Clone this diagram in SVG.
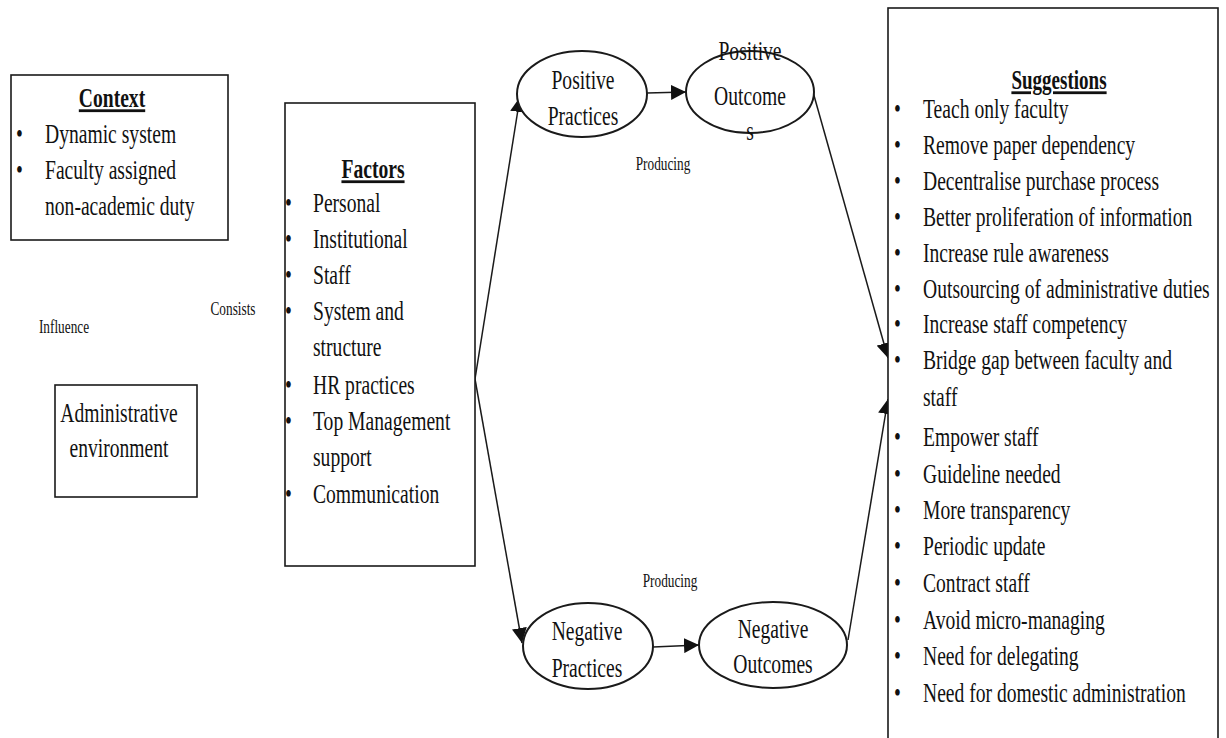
<svg xmlns="http://www.w3.org/2000/svg" width="1226" height="738" viewBox="0 0 1226 738">
  <defs>
    <style>
      .box { fill: #fff; stroke: #1a1a1a; stroke-width: 1.6; }
      .oval { fill: #fff; stroke: #1a1a1a; stroke-width: 2; }
      .link { fill: none; stroke: #1a1a1a; stroke-width: 1.5; marker-end: url(#head); }
      text { font-family: "Liberation Serif", "Times New Roman", serif; fill: #111; }
      .t { font-size: 28px; }
      .c { font-size: 28px; text-anchor: middle; }
      .h { font-size: 28px; font-weight: bold; text-anchor: middle; text-decoration: underline; }
      .s { font-size: 19px; text-anchor: middle; }
      .b { font-size: 28px; }
    </style>
    <marker id="head" markerUnits="userSpaceOnUse" markerWidth="15" markerHeight="15" refX="15" refY="7.5" orient="auto">
      <path d="M0,0 L15,7.5 L0,15 z" fill="#111"/>
    </marker>
  </defs>

  <!-- connectors -->
  <g id="connectors">
    <line class="link" x1="475" y1="379" x2="520" y2="97"/>
    <line class="link" x1="475" y1="379" x2="522" y2="643"/>
    <line class="link" x1="647" y1="93" x2="686" y2="92"/>
    <line class="link" x1="653" y1="647" x2="699" y2="645"/>
    <line class="link" x1="813" y1="92" x2="888" y2="358"/>
    <line class="link" x1="848" y1="640" x2="888" y2="399"/>
  </g>

  <!-- edge labels -->
  <g id="labels">
    <text class="s" transform="translate(64,333) scale(0.7,1)">Influence</text>
    <text class="s" transform="translate(233,315) scale(0.7,1)">Consists</text>
    <text class="s" transform="translate(663,170) scale(0.7,1)">Producing</text>
    <text class="s" transform="translate(670,587) scale(0.7,1)">Producing</text>
  </g>

  <!-- Context -->
  <g id="context">
    <rect class="box" x="11" y="75" width="217" height="165"/>
    <text class="h" transform="translate(112,107) scale(0.7,1)">Context</text>
    <text class="b" transform="translate(16,143) scale(0.7,1)">•</text>
    <text class="t" transform="translate(45,143) scale(0.7,1)">Dynamic system</text>
    <text class="b" transform="translate(16,179) scale(0.7,1)">•</text>
    <text class="t" transform="translate(45,179) scale(0.7,1)">Faculty assigned</text>
    <text class="t" transform="translate(45,215) scale(0.7,1)">non-academic duty</text>
  </g>

  <!-- Administrative environment -->
  <g id="admin-environment">
    <rect class="box" x="55" y="385" width="142" height="112"/>
    <text class="c" transform="translate(119,422) scale(0.7,1)">Administrative</text>
    <text class="c" transform="translate(119,457) scale(0.7,1)">environment</text>
  </g>

  <!-- Factors -->
  <g id="factors">
    <rect class="box" x="285" y="103" width="190" height="463"/>
    <text class="h" transform="translate(373,178) scale(0.7,1)">Factors</text>
    <text class="b" transform="translate(285,212) scale(0.7,1)">•</text>
    <text class="t" transform="translate(313,212) scale(0.7,1)">Personal</text>
    <text class="b" transform="translate(285,248) scale(0.7,1)">•</text>
    <text class="t" transform="translate(313,248) scale(0.7,1)">Institutional</text>
    <text class="b" transform="translate(285,284) scale(0.7,1)">•</text>
    <text class="t" transform="translate(313,284) scale(0.7,1)">Staff</text>
    <text class="b" transform="translate(285,320) scale(0.7,1)">•</text>
    <text class="t" transform="translate(313,320) scale(0.7,1)">System and</text>
    <text class="t" transform="translate(313,356) scale(0.7,1)">structure</text>
    <text class="b" transform="translate(285,394) scale(0.7,1)">•</text>
    <text class="t" transform="translate(313,394) scale(0.7,1)">HR practices</text>
    <text class="b" transform="translate(285,430) scale(0.7,1)">•</text>
    <text class="t" transform="translate(313,430) scale(0.7,1)">Top Management</text>
    <text class="t" transform="translate(313,466) scale(0.7,1)">support</text>
    <text class="b" transform="translate(285,503) scale(0.7,1)">•</text>
    <text class="t" transform="translate(313,503) scale(0.7,1)">Communication</text>
  </g>

  <!-- Practices and outcomes -->
  <g id="positive-practices">
    <ellipse class="oval" cx="582" cy="94" rx="65" ry="43"/>
    <text class="c" transform="translate(583,89) scale(0.7,1)">Positive</text>
    <text class="c" transform="translate(583,125) scale(0.7,1)">Practices</text>
  </g>
  <g id="positive-outcomes">
    <ellipse class="oval" cx="750" cy="92" rx="64" ry="41"/>
    <text class="c" transform="translate(750,60) scale(0.7,1)">Positive</text>
    <text class="c" transform="translate(750,105) scale(0.7,1)">Outcome</text>
    <text class="c" transform="translate(750,140) scale(0.7,1)">s</text>
  </g>
  <g id="negative-practices">
    <ellipse class="oval" cx="588" cy="646" rx="65" ry="43"/>
    <text class="c" transform="translate(587,640) scale(0.7,1)">Negative</text>
    <text class="c" transform="translate(587,677) scale(0.7,1)">Practices</text>
  </g>
  <g id="negative-outcomes">
    <ellipse class="oval" cx="773" cy="645" rx="74" ry="43"/>
    <text class="c" transform="translate(773,638) scale(0.7,1)">Negative</text>
    <text class="c" transform="translate(773,673) scale(0.7,1)">Outcomes</text>
  </g>

  <!-- Suggestions -->
  <g id="suggestions">
    <rect class="box" x="888" y="8" width="330" height="740"/>
    <text class="h" transform="translate(1059,89) scale(0.68,1)">Suggestions</text>
    <g class="bullets">
      <text class="b" transform="translate(894,118) scale(0.7,1)">•</text>
      <text class="b" transform="translate(894,154) scale(0.7,1)">•</text>
      <text class="b" transform="translate(894,190) scale(0.7,1)">•</text>
      <text class="b" transform="translate(894,226) scale(0.7,1)">•</text>
      <text class="b" transform="translate(894,262) scale(0.7,1)">•</text>
      <text class="b" transform="translate(894,298) scale(0.7,1)">•</text>
      <text class="b" transform="translate(894,333) scale(0.7,1)">•</text>
      <text class="b" transform="translate(894,369) scale(0.7,1)">•</text>
      <text class="b" transform="translate(894,446) scale(0.7,1)">•</text>
      <text class="b" transform="translate(894,483) scale(0.7,1)">•</text>
      <text class="b" transform="translate(894,519) scale(0.7,1)">•</text>
      <text class="b" transform="translate(894,555) scale(0.7,1)">•</text>
      <text class="b" transform="translate(894,592) scale(0.7,1)">•</text>
      <text class="b" transform="translate(894,629) scale(0.7,1)">•</text>
      <text class="b" transform="translate(894,665) scale(0.7,1)">•</text>
      <text class="b" transform="translate(894,702) scale(0.7,1)">•</text>
    </g>
    <text class="t" transform="translate(923,118) scale(0.7,1)">Teach only faculty</text>
    <text class="t" transform="translate(923,154) scale(0.7,1)">Remove paper dependency</text>
    <text class="t" transform="translate(923,190) scale(0.7,1)">Decentralise purchase process</text>
    <text class="t" transform="translate(923,226) scale(0.7,1)">Better proliferation of information</text>
    <text class="t" transform="translate(923,262) scale(0.7,1)">Increase rule awareness</text>
    <text class="t" transform="translate(923,298) scale(0.7,1)">Outsourcing of administrative duties</text>
    <text class="t" transform="translate(923,333) scale(0.7,1)">Increase staff competency</text>
    <text class="t" transform="translate(923,369) scale(0.7,1)">Bridge gap between faculty and</text>
    <text class="t" transform="translate(923,406) scale(0.7,1)">staff</text>
    <text class="t" transform="translate(923,446) scale(0.7,1)">Empower staff</text>
    <text class="t" transform="translate(923,483) scale(0.7,1)">Guideline needed</text>
    <text class="t" transform="translate(923,519) scale(0.7,1)">More transparency</text>
    <text class="t" transform="translate(923,555) scale(0.7,1)">Periodic update</text>
    <text class="t" transform="translate(923,592) scale(0.7,1)">Contract staff</text>
    <text class="t" transform="translate(923,629) scale(0.7,1)">Avoid micro-managing</text>
    <text class="t" transform="translate(923,665) scale(0.7,1)">Need for delegating</text>
    <text class="t" transform="translate(923,702) scale(0.7,1)">Need for domestic administration</text>
  </g>
</svg>
